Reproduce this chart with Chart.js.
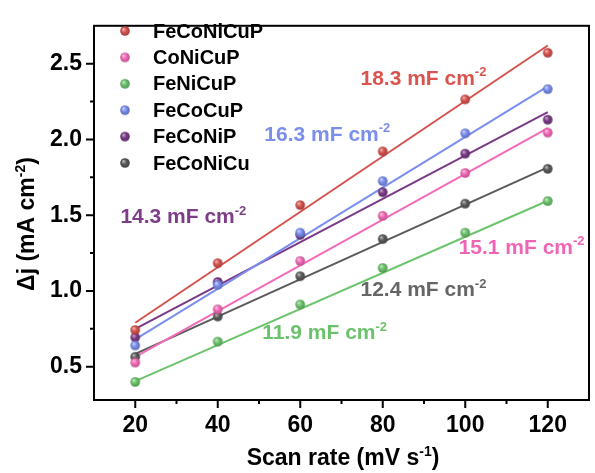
<!DOCTYPE html>
<html>
<head>
<meta charset="utf-8">
<script src="https://cdn.jsdelivr.net/npm/chart.js@4/dist/chart.umd.min.js"></script>
<style>
  html, body { margin: 0; padding: 0; background: #fff; }
</style>
</head>
<body>
<canvas id="chart" width="595" height="473"></canvas>
<script>
// values
const scanRates = [20, 40, 60, 80, 100, 120];
const names = ["FeCoNiCuP", "CoNiCuP", "FeNiCuP", "FeCoCuP", "FeCoNiP", "FeCoNiCu"];
const feconicup = [0.742, 1.183, 1.566, 1.921, 2.264, 2.572];
const conicup   = [0.527, 0.878, 1.197, 1.495, 1.778, 2.045];
const fenicup   = [0.399, 0.665, 0.910, 1.151, 1.384, 1.593];
const fecocup   = [0.640, 1.040, 1.384, 1.725, 2.040, 2.332];
const feconip   = [0.693, 1.059, 1.370, 1.651, 1.906, 2.130];
const feconicu  = [0.565, 0.831, 1.097, 1.342, 1.576, 1.806];

// linear fits: value at 20 and at 120 mV/s
const fitX = [20, 120];
const fitFeCoNiCuP = [0.79, 2.62];
const fitCoNiCuP   = [0.565, 2.075];
const fitFeNiCuP   = [0.405, 1.595];
const fitFeCoCuP   = [0.68, 2.35];
const fitFeCoNiP   = [0.75, 2.18];
const fitFeCoNiCu  = [0.585, 1.815];

const capacitance = ["18.3", "15.1", "11.9", "16.3", "14.3", "12.4"];

const xTicks = [20, 40, 60, 80, 100, 120];
const xMinor = [30, 50, 70, 90, 110];
const yTicks = [0.5, 1.0, 1.5, 2.0, 2.5];
const yMinor = [0.75, 1.25, 1.75, 2.25];

// styles
const colors = ["#d6524e", "#f56ab8", "#6cc46c", "#7b8ef0", "#7a3a87", "#5a5a5a"];
const labelColors = ["#d9534f", "#f064b5", "#6cc26c", "#7b8eea", "#7d3e87", "#666666"];
// where each capacitance label sits (data coords: left x, middle y)
const labelPos = [[74.6, 2.385], [98.4, 1.268], [50.8, 0.706], [51.3, 2.015], [16.4, 1.472], [74.6, 0.987]];
const FONT = "Arial, 'Liberation Sans', sans-serif";

const seriesVals = [feconicup, conicup, fenicup, fecocup, feconip, feconicu];
const fitVals = [fitFeCoNiCuP, fitCoNiCuP, fitFeNiCuP, fitFeCoCuP, fitFeCoNiP, fitFeCoNiCu];

function shade(hex, f) {
  const n = parseInt(hex.slice(1), 16);
  let r = n >> 16, g = (n >> 8) & 255, b = n & 255;
  if (f > 0) { r += (255 - r) * f; g += (255 - g) * f; b += (255 - b) * f; }
  else { r *= 1 + f; g *= 1 + f; b *= 1 + f; }
  return `rgb(${Math.round(r)},${Math.round(g)},${Math.round(b)})`;
}

// small shaded ball used as marker
function sphere(color, r) {
  const s = Math.ceil(r * 2 + 2);
  const c = document.createElement("canvas");
  c.width = s; c.height = s;
  const g = c.getContext("2d");
  const m = s / 2;
  const grd = g.createRadialGradient(m - r * 0.35, m - r * 0.4, r * 0.1, m, m, r);
  grd.addColorStop(0, shade(color, 0.55));
  grd.addColorStop(0.45, color);
  grd.addColorStop(1, shade(color, -0.25));
  g.fillStyle = grd;
  g.beginPath(); g.arc(m, m, r, 0, Math.PI * 2); g.fill();
  return c;
}
const balls = colors.map(c => sphere(c, 4.8));

const datasets = [];
names.forEach((n, i) => {
  datasets.push({
    label: n + " fit",
    data: fitX.map((x, k) => ({ x: x, y: fitVals[i][k] })),
    showLine: true,
    borderColor: colors[i],
    borderWidth: 2,
    pointRadius: 0,
    order: 2
  });
});
names.forEach((n, i) => {
  datasets.push({
    label: n,
    data: scanRates.map((x, k) => ({ x: x, y: seriesVals[i][k] })),
    showLine: false,
    pointStyle: balls[i],
    pointRadius: 5,
    order: 1
  });
});

// text with superscript pieces: parts = [[text, isSup], ...]
function drawRich(ctx, parts, x, y, size, align) {
  const fontOf = sup => `bold ${sup ? Math.round(size * 0.62) : size}px ${FONT}`;
  let w = 0;
  parts.forEach(p => { ctx.font = fontOf(p[1]); w += ctx.measureText(p[0]).width; });
  let cx = align === "center" ? x - w / 2 : x;
  ctx.textAlign = "left";
  ctx.textBaseline = "alphabetic";
  parts.forEach(p => {
    ctx.font = fontOf(p[1]);
    ctx.fillText(p[0], cx, p[1] ? y - size * 0.4 : y);
    cx += ctx.measureText(p[0]).width;
  });
}

const decor = {
  id: "decor",
  afterDraw(chart) {
    const ctx = chart.ctx;
    const a = chart.chartArea;
    const xs = chart.scales.x, ys = chart.scales.y;
    ctx.save();
    ctx.strokeStyle = "#000";
    ctx.lineWidth = 2;
    ctx.strokeRect(a.left, a.top, a.right - a.left, a.bottom - a.top);
    ctx.beginPath();
    xTicks.forEach(v => { const p = xs.getPixelForValue(v); ctx.moveTo(p, a.bottom); ctx.lineTo(p, a.bottom + 8); });
    xMinor.forEach(v => { const p = xs.getPixelForValue(v); ctx.moveTo(p, a.bottom); ctx.lineTo(p, a.bottom + 4); });
    yTicks.forEach(v => { const p = ys.getPixelForValue(v); ctx.moveTo(a.left, p); ctx.lineTo(a.left - 8, p); });
    yMinor.forEach(v => { const p = ys.getPixelForValue(v); ctx.moveTo(a.left, p); ctx.lineTo(a.left - 4, p); });
    ctx.stroke();

    // legend
    names.forEach((n, i) => {
      const y = 31 + i * 26.4;
      ctx.drawImage(balls[i], 125 - balls[i].width / 2, y - balls[i].height / 2);
      ctx.fillStyle = "#000";
      ctx.font = `bold 20px ${FONT}`;
      ctx.textAlign = "left";
      ctx.textBaseline = "middle";
      ctx.fillText(n, 153, y + 1);
    });

    // capacitance labels
    capacitance.forEach((c, i) => {
      const px = xs.getPixelForValue(labelPos[i][0]);
      const py = ys.getPixelForValue(labelPos[i][1]);
      ctx.fillStyle = labelColors[i];
      drawRich(ctx, [[c + " mF cm", false], ["-2", true]], px, py + 3.5, 21, "left");
    });

    // axis titles
    ctx.fillStyle = "#000";
    drawRich(ctx, [["Scan rate (mV s", false], ["-1", true], [")", false]], 343, 465, 23, "center");
    ctx.translate(34, 224);
    ctx.rotate(-Math.PI / 2);
    drawRich(ctx, [["\u0394j (mA cm", false], ["-2", true], [")", false]], 0, 0, 23, "center");
    ctx.restore();
  }
};

new Chart(document.getElementById("chart"), {
  type: "scatter",
  data: { datasets: datasets },
  options: {
    responsive: false,
    animation: false,
    devicePixelRatio: 1,
    layout: { padding: { left: 0, right: 2, top: 12, bottom: 0 } },
    plugins: { legend: { display: false }, tooltip: { enabled: false } },
    scales: {
      x: {
        type: "linear", min: 10, max: 130,
        afterBuildTicks: s => { s.ticks = xTicks.map(v => ({ value: v })); },
        afterFit: s => { s.height = 73; },
        grid: { display: false, drawTicks: false, tickLength: 0 },
        border: { display: false },
        ticks: { color: "#000", padding: 12, font: { size: 23, weight: "bold", family: FONT } }
      },
      y: {
        min: 0.28, max: 2.75,
        afterBuildTicks: s => { s.ticks = yTicks.map(v => ({ value: v })); },
        afterFit: s => { s.width = 94; },
        grid: { display: false, drawTicks: false, tickLength: 0 },
        border: { display: false },
        ticks: { color: "#000", padding: 12, callback: v => v.toFixed(1), font: { size: 23, weight: "bold", family: FONT } }
      }
    }
  },
  plugins: [decor]
});
</script>
</body>
</html>
